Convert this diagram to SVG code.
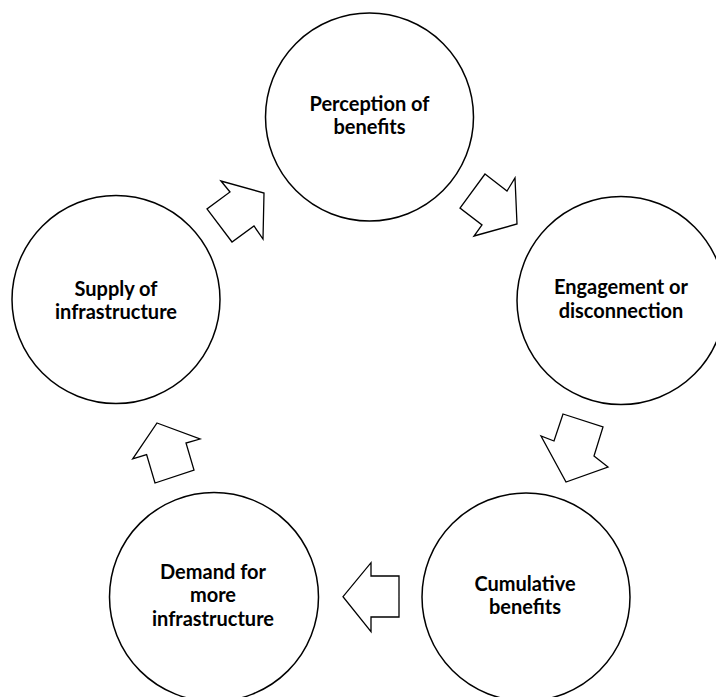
<svg xmlns="http://www.w3.org/2000/svg" width="716" height="697" viewBox="0 0 716 697">
<style>
.node circle{fill:#fff;stroke:#000;stroke-width:1.5}
.node text{font-family:Lato,"Open Sans","Liberation Sans",sans-serif;font-weight:bold;font-size:20px;fill:#000;text-anchor:middle}
.conn polygon{fill:#fff;stroke:#000;stroke-width:1.3;stroke-linejoin:miter}
</style>
<rect width="716" height="697" fill="#fff"/>
<g id="perception" class="node">
<circle cx="369.5" cy="117" r="104"/>
<text x="369.5" y="111">Perception of</text>
<text x="369.5" y="134">benefits</text>
</g>
<g id="engagement" class="node">
<circle cx="621" cy="300.5" r="104"/>
<text x="621" y="294">Engagement or</text>
<text x="621" y="318">disconnection</text>
</g>
<g id="cumulative" class="node">
<circle cx="526" cy="597" r="104"/>
<text x="525" y="591">Cumulative</text>
<text x="525" y="614">benefits</text>
</g>
<g id="demand" class="node">
<circle cx="214" cy="597" r="104.5"/>
<text x="213" y="579">Demand for</text>
<text x="213" y="602">more</text>
<text x="213" y="626">infrastructure</text>
</g>
<g id="supply" class="node">
<circle cx="116" cy="299.5" r="104"/>
<text x="116" y="296">Supply of</text>
<text x="116" y="319">infrastructure</text>
</g>
<g id="connectors" class="conn">
<polygon points="221,181 230,192 207,209 232,242 254,226 263,239 264,193"/>
<polygon points="485,174 507,191 515,178 517,224 474,236 482,225 460,208"/>
<polygon points="563,414 603,427 594,456 608,467 566,482 541,436 554,441"/>
<polygon points="371,562.7 371,576 399,576 399,617 371,617 371,631.7 343,596.7"/>
<polygon points="157,423 200,439 186,443 194,470 155,483 146.6,454.6 132.7,458.9"/>
</g>
</svg>
